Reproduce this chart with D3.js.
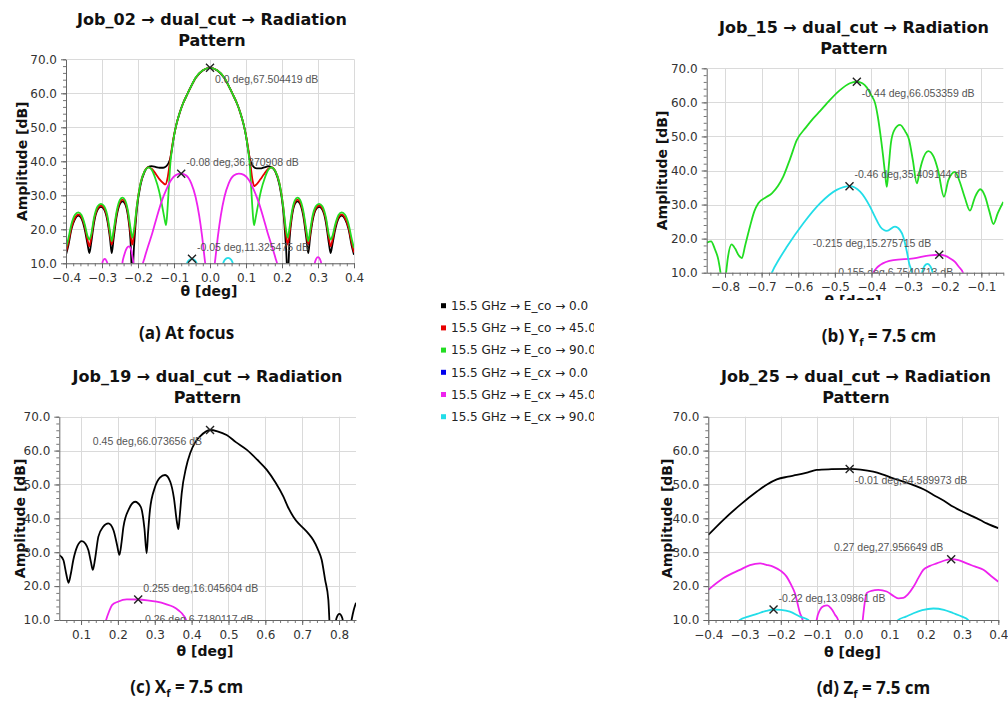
<!DOCTYPE html>
<html>
<head>
<meta charset="utf-8">
<script src="https://cdn.jsdelivr.net/npm/d3@7"></script>
<style>
  body { margin: 0; background: #fff; }
  svg { display: block; }
</style>
</head>
<body>
<svg id="fig" width="1008" height="704"></svg>
<script>
// ---------- legend / series ----------
const seriesNames = [
  "15.5 GHz → E_co → 0.0",
  "15.5 GHz → E_co → 45.0",
  "15.5 GHz → E_co → 90.0",
  "15.5 GHz → E_cx → 0.0",
  "15.5 GHz → E_cx → 45.0",
  "15.5 GHz → E_cx → 90.0"
];
const seriesColors = ["#000000", "#e80000", "#22dd22", "#0000ee", "#ee22ee", "#22dde8"];

// ---------- axis ticks ----------
const yTicks = [10, 20, 30, 40, 50, 60, 70];
const xTicksA = [-0.4, -0.3, -0.2, -0.1, 0.0, 0.1, 0.2, 0.3, 0.4];
const xTicksB = [-0.8, -0.7, -0.6, -0.5, -0.4, -0.3, -0.2, -0.1];
const xTicksC = [0.1, 0.2, 0.3, 0.4, 0.5, 0.6, 0.7, 0.8];
const xTicksD = [-0.4, -0.3, -0.2, -0.1, 0.0, 0.1, 0.2, 0.3, 0.4];

// ---------- (a) Job_02, at focus : [theta deg, amplitude dB] ----------
const a_co0 = [[-0.400,12.5],[-0.394,15],[-0.385,20],[-0.375,23],[-0.366,24],[-0.357,23.2],[-0.348,20],[-0.340,15.5],[-0.335,13],[-0.330,16],[-0.322,22],[-0.312,25.8],[-0.303,26.6],[-0.294,25.8],[-0.285,22.5],[-0.278,17.5],[-0.273,13],[-0.268,17],[-0.259,24],[-0.250,27.5],[-0.243,28.2],[-0.236,27.5],[-0.228,24],[-0.221,17],[-0.216,6],[-0.211,15],[-0.203,26],[-0.193,33],[-0.182,36.8],[-0.172,38.3],[-0.162,38.6],[-0.150,38.3],[-0.140,38.1],[-0.130,38.1],[-0.122,38.5],[-0.116,39.3],[-0.110,41],[-0.105,44],[-0.100,47.5],[-0.093,51],[-0.085,54],[-0.075,57],[-0.065,59.3],[-0.055,61.5],[-0.040,64.5],[-0.020,66.7],[0.000,67.45],[0.020,66.7],[0.040,64.5],[0.055,61.5],[0.065,59.3],[0.075,57],[0.085,54],[0.093,51],[0.100,47.5],[0.105,44],[0.110,41],[0.116,39.2],[0.122,38.3],[0.130,37.9],[0.140,37.9],[0.150,38.2],[0.162,38.5],[0.172,38.2],[0.182,36.8],[0.193,33],[0.203,26],[0.211,15],[0.216,6],[0.221,17],[0.228,24],[0.236,27.5],[0.243,28.2],[0.250,27.5],[0.259,24],[0.268,17],[0.273,13],[0.278,17.5],[0.285,22.5],[0.294,25.8],[0.303,26.6],[0.312,25.8],[0.322,22],[0.330,16],[0.335,13],[0.340,15.5],[0.348,20],[0.357,23.2],[0.366,24],[0.375,23],[0.385,20],[0.394,15],[0.400,12.5]];
const a_co45 = [[-0.400,13.2],[-0.394,15.8],[-0.385,20.5],[-0.375,23.4],[-0.366,24.4],[-0.357,23.6],[-0.348,20.8],[-0.340,16.8],[-0.335,15],[-0.330,17.5],[-0.322,22.8],[-0.312,26.2],[-0.303,27],[-0.294,26.2],[-0.285,23.2],[-0.278,18.5],[-0.273,15.5],[-0.268,18.5],[-0.259,24.8],[-0.250,28],[-0.243,28.7],[-0.236,28],[-0.228,24.8],[-0.221,19],[-0.216,15.5],[-0.211,18.5],[-0.203,27],[-0.193,33.5],[-0.182,37],[-0.172,38.2],[-0.162,37.8],[-0.150,36.2],[-0.140,34.7],[-0.130,33.6],[-0.124,33.2],[-0.118,35],[-0.113,38.5],[-0.108,42.5],[-0.102,46.5],[-0.093,51],[-0.085,54],[-0.075,57],[-0.065,59.3],[-0.055,61.5],[-0.040,64.5],[-0.020,66.75],[0.000,67.48],[0.020,66.75],[0.040,64.5],[0.055,61.5],[0.065,59.3],[0.075,57],[0.085,54],[0.093,51],[0.102,46.5],[0.108,42.5],[0.113,38.5],[0.118,34.5],[0.123,32.7],[0.130,33.3],[0.140,34.7],[0.150,36.2],[0.162,37.8],[0.172,38.2],[0.182,37],[0.193,33.5],[0.203,27],[0.211,18.5],[0.216,15.5],[0.221,19],[0.228,24.8],[0.236,28],[0.243,28.7],[0.250,28],[0.259,24.8],[0.268,18.5],[0.273,15.5],[0.278,18.5],[0.285,23.2],[0.294,26.2],[0.303,27],[0.312,26.2],[0.322,22.8],[0.330,17.5],[0.335,15],[0.340,16.8],[0.348,20.8],[0.357,23.6],[0.366,24.4],[0.375,23.4],[0.385,20.5],[0.394,15.8],[0.400,13.2]];
const a_co90 = [[-0.400,14.5],[-0.394,17],[-0.385,21.5],[-0.375,24.3],[-0.366,25],[-0.357,24.2],[-0.348,21.5],[-0.340,18],[-0.335,17],[-0.330,18.5],[-0.322,23.5],[-0.312,26.8],[-0.303,27.5],[-0.294,26.8],[-0.285,24],[-0.278,19.5],[-0.273,16.5],[-0.268,19.5],[-0.259,25.5],[-0.250,28.7],[-0.243,29.3],[-0.236,28.6],[-0.228,25.5],[-0.221,20.5],[-0.216,17.5],[-0.211,20],[-0.203,27],[-0.193,33.5],[-0.182,37],[-0.170,38.2],[-0.162,37.5],[-0.152,35],[-0.142,31.5],[-0.134,27.5],[-0.127,23.5],[-0.122,21.2],[-0.118,26],[-0.114,33],[-0.110,39.5],[-0.105,44],[-0.100,47.5],[-0.093,51],[-0.085,54],[-0.075,57],[-0.065,59.3],[-0.055,61.5],[-0.040,64.6],[-0.020,66.8],[0.000,67.504419],[0.020,66.8],[0.040,64.6],[0.055,61.5],[0.065,59.3],[0.075,57],[0.085,54],[0.093,51],[0.100,47.5],[0.105,44],[0.110,39.5],[0.114,33],[0.118,26],[0.122,21.2],[0.127,23.5],[0.134,27.5],[0.142,31.5],[0.152,35],[0.162,37.5],[0.170,38.2],[0.182,37],[0.193,33.5],[0.203,27],[0.211,20],[0.216,17.5],[0.221,20.5],[0.228,25.5],[0.236,28.6],[0.243,29.3],[0.250,28.7],[0.259,25.5],[0.268,19.5],[0.273,16.5],[0.278,19.5],[0.285,24],[0.294,26.8],[0.303,27.5],[0.312,26.8],[0.322,23.5],[0.330,18.5],[0.335,17],[0.340,18],[0.348,21.5],[0.357,24.2],[0.366,25],[0.375,24.3],[0.385,21.5],[0.394,17],[0.400,14.5]];
const a_cx45 = [[-0.400,0],[-0.305,0],[-0.300,9.5],[-0.296,11],[-0.292,11.3],[-0.288,10.8],[-0.284,9.5],[-0.280,0],[-0.250,0],[-0.244,9.5],[-0.238,12.5],[-0.231,14.5],[-0.225,15],[-0.219,14],[-0.214,11],[-0.210,8],[-0.205,0],[-0.195,0],[-0.188,9],[-0.182,11.5],[-0.172,15],[-0.160,19],[-0.148,23.5],[-0.135,28],[-0.122,31.5],[-0.108,34.5],[-0.094,36],[-0.080,36.370908],[-0.066,35.8],[-0.052,33.5],[-0.040,29.5],[-0.030,24],[-0.022,18],[-0.015,11.5],[-0.011,8],[0.000,0],[0.011,8],[0.015,11.5],[0.022,18],[0.030,24],[0.040,29.5],[0.052,33.5],[0.066,35.8],[0.080,36.35],[0.094,36],[0.108,34.5],[0.122,31.5],[0.135,28],[0.148,23.5],[0.160,19],[0.172,15],[0.182,11.5],[0.188,9],[0.195,0],[0.285,0],[0.290,9.5],[0.295,11.3],[0.300,11.8],[0.305,11.3],[0.310,9.5],[0.315,0],[0.400,0]];
const a_cx90 = [[-0.075,0],[-0.066,9.3],[-0.060,10.8],[-0.050,11.325475],[-0.041,10.8],[-0.035,9.3],[-0.026,0],[0.026,0],[0.035,9.3],[0.041,11],[0.050,11.6],[0.059,11],[0.065,9.3],[0.074,0]];
const a_marks = [[0.0, 67.504419], [-0.08, 36.370908], [-0.05, 11.325475]];

// ---------- (b) Job_15, Yf = 7.5 cm ----------
const b_co90 = [[-0.850,18.8],[-0.838,19.2],[-0.828,17],[-0.818,13.7],[-0.810,8],[-0.805,2],[-0.799,8],[-0.792,14.5],[-0.782,18.3],[-0.772,17],[-0.762,15],[-0.754,14.3],[-0.745,18],[-0.732,23.5],[-0.720,28],[-0.709,30.4],[-0.690,32],[-0.672,33.3],[-0.655,35.5],[-0.641,38.2],[-0.622,43.5],[-0.604,48.9],[-0.580,52.5],[-0.559,55.3],[-0.540,57.5],[-0.522,59.7],[-0.486,63.6],[-0.459,65.6],[-0.440,66.053359],[-0.425,65.6],[-0.413,64.4],[-0.400,62],[-0.390,59.7],[-0.383,56],[-0.376,50.9],[-0.368,44],[-0.363,39.2],[-0.358,35.2],[-0.353,41],[-0.347,48],[-0.338,51.8],[-0.322,53.4],[-0.308,51.5],[-0.297,48.9],[-0.287,43],[-0.276,36.2],[-0.268,40],[-0.262,42.5],[-0.245,45.7],[-0.230,44],[-0.218,40],[-0.202,32.3],[-0.190,37.2],[-0.172,39.6],[-0.160,37],[-0.145,32],[-0.131,28.2],[-0.118,32],[-0.103,34.5],[-0.090,32.5],[-0.078,28],[-0.067,24.3],[-0.055,27.5],[-0.040,30.8]];
const b_cx45 = [[-0.420,0],[-0.395,10],[-0.385,11.5],[-0.376,12.3],[-0.340,13.7],[-0.285,14.2],[-0.240,15.1],[-0.215,15.275715],[-0.200,15],[-0.185,14.2],[-0.172,13.2],[-0.162,11.8],[-0.150,10],[-0.130,0]];
const b_cx90 = [[-0.700,0],[-0.672,10],[-0.652,14],[-0.631,17.6],[-0.586,24.5],[-0.540,30.4],[-0.495,34.3],[-0.460,35.409144],[-0.431,33.8],[-0.404,29.4],[-0.390,26.3],[-0.376,23.5],[-0.358,22.3],[-0.336,23.5],[-0.322,22.5],[-0.313,20.5],[-0.303,16],[-0.297,12.7],[-0.290,10],[-0.282,0],[-0.268,0],[-0.262,10],[-0.255,12],[-0.247,12.6],[-0.240,12],[-0.233,10],[-0.225,0],[-0.040,0]];
const b_marks = [[-0.44, 66.053359], [-0.46, 35.409144], [-0.215, 15.275715], [-0.155, 6.7540713]];

// ---------- (c) Job_19, Xf = 7.5 cm ----------
const c_co0 = [[0.041,29.2],[0.052,27.7],[0.060,23.5],[0.066,21],[0.072,23.5],[0.079,27.7],[0.090,31.8],[0.102,33.3],[0.112,32.5],[0.120,30.6],[0.127,27],[0.132,24.8],[0.138,28],[0.147,34.6],[0.160,37.5],[0.174,38.5],[0.188,36.5],[0.198,32],[0.204,29.2],[0.210,33],[0.215,37.5],[0.230,42.8],[0.2465,44.9],[0.262,43.4],[0.272,37],[0.278,29.7],[0.282,36],[0.287,42.5],[0.300,49],[0.314,52],[0.328,52.8],[0.342,50.8],[0.352,46],[0.360,39],[0.364,36.8],[0.368,41],[0.373,47.3],[0.385,55],[0.396,59.2],[0.410,62.5],[0.423,64.2],[0.450,66.073656],[0.470,65.7],[0.495,64.6],[0.520,62.5],[0.550,60.2],[0.578,57.3],[0.604,54.3],[0.628,50.5],[0.649,46.4],[0.662,43.2],[0.676,40.5],[0.690,38.5],[0.703,37.1],[0.717,35.5],[0.730,33.6],[0.742,31],[0.753,27.7],[0.762,22],[0.771,15.9],[0.777,5],[0.785,5],[0.793,10.5],[0.801,11.8],[0.809,10.5],[0.815,5],[0.826,5],[0.834,10],[0.840,13],[0.846,15.1]];
const c_cx45 = [[0.150,0],[0.168,10],[0.176,12.5],[0.184,14.4],[0.200,15.4],[0.224,16.1],[0.255,16.045604],[0.280,15.8],[0.305,15.4],[0.330,14.7],[0.350,13.9],[0.365,12.8],[0.377,11.5],[0.385,10],[0.400,0]];
const c_marks = [[0.45, 66.073656], [0.255, 16.045604], [0.26, 6.7180117]];

// ---------- (d) Job_25, Zf = 7.5 cm ----------
const d_co0 = [[-0.400,35.1],[-0.359,39.5],[-0.313,43.9],[-0.266,47.9],[-0.238,50],[-0.211,51.5],[-0.180,52.3],[-0.156,52.8],[-0.125,53.6],[-0.101,54.3],[-0.060,54.5],[-0.010,54.589973],[0.020,54.4],[0.055,53.8],[0.080,53],[0.110,51.8],[0.140,50.8],[0.166,49.8],[0.195,48.5],[0.221,46.9],[0.250,45.2],[0.276,43.4],[0.305,41.8],[0.331,40.5],[0.350,39.5],[0.368,38.5],[0.400,37.1]];
const d_cx45 = [[-0.400,18.9],[-0.359,22.3],[-0.313,24.8],[-0.285,26.2],[-0.257,26.7],[-0.240,26.3],[-0.220,25.7],[-0.200,24.5],[-0.184,22.8],[-0.172,20.5],[-0.161,17.9],[-0.147,12],[-0.140,10],[-0.130,0],[-0.110,0],[-0.101,10],[-0.092,13],[-0.082,14.1],[-0.072,14.3],[-0.062,13.5],[-0.050,11.5],[-0.042,10],[-0.035,0],[0.018,0],[0.026,10],[0.037,17.9],[0.050,18.6],[0.069,18.9],[0.092,18.4],[0.112,17],[0.125,16.4],[0.138,16.5],[0.150,17.5],[0.166,19.8],[0.180,22.5],[0.193,24.8],[0.210,25.9],[0.230,26.7],[0.270,27.956649],[0.290,27.7],[0.313,26.7],[0.335,25.8],[0.359,24.8],[0.380,23],[0.400,21.3]];
const d_cx90 = [[-0.350,0],[-0.313,10],[-0.290,11],[-0.266,11.8],[-0.240,12.7],[-0.220,13.09861],[-0.200,13],[-0.175,12.5],[-0.147,11],[-0.124,10],[-0.100,0],[0.100,0],[0.124,10],[0.145,11],[0.166,12],[0.190,12.9],[0.221,13.4],[0.250,13],[0.276,12],[0.300,11],[0.317,10],[0.340,0]];
const d_marks = [[-0.01, 54.589973], [0.27, 27.956649], [-0.22, 13.09861]];

// ---------- panel layout ----------
const panels = [
  { id: "a", title: "Job_02 → dual_cut → Radiation", left: 66, right: 354, top: 59.3, bottom: 263.3,
    xDomain: [-0.4, 0.4], xTicks: xTicksA, titleX: 212, titleY: 25, yLabelX: 22, xLabelX: 209, xLabelY: 296,
    series: [[0, a_co0], [1, a_co45], [2, a_co90], [4, a_cx45], [5, a_cx90]],
    marks: a_marks, place: ["br", "ar", "ar"],
    caption: { x: 186.5, y: 339, main: "(a) At focus", sub: null, rest: "" } },
  { id: "b", title: "Job_15 → dual_cut → Radiation", left: 706.7, right: 1003.3, top: 68.3, bottom: 272.7,
    xDomain: [-0.85, -0.04], xTicks: xTicksB, titleX: 854, titleY: 33, yLabelX: 662, xLabelX: 853, xLabelY: 306,
    clipBottom: 300,
    series: [[2, b_co90], [4, b_cx45], [5, b_cx90]],
    marks: b_marks, place: ["br", "ar", "al", "al"],
    caption: { x: 879, y: 342, main: "(b) Y", sub: "f", rest: " = 7.5 cm" } },
  { id: "c", title: "Job_19 → dual_cut → Radiation", left: 59.3, right: 356, top: 416.7, bottom: 620,
    xDomain: [0.041, 0.846], xTicks: xTicksC, titleX: 207.5, titleY: 382, yLabelX: 20, xLabelX: 205, xLabelY: 656,
    series: [[0, c_co0], [4, c_cx45]],
    marks: c_marks, place: ["bl", "ar", "ar"],
    caption: { x: 186.7, y: 693, main: "(c) X", sub: "f", rest: " = 7.5 cm" } },
  { id: "d", title: "Job_25 → dual_cut → Radiation", left: 708.3, right: 998.3, top: 416.7, bottom: 620,
    xDomain: [-0.4, 0.4], xTicks: xTicksD, titleX: 856, titleY: 382, yLabelX: 667, xLabelX: 852.5, xLabelY: 657,
    series: [[0, d_co0], [4, d_cx45], [5, d_cx90]],
    marks: d_marks, place: ["br", "al", "ar"],
    caption: { x: 873.5, y: 694, main: "(d) Z", sub: "f", rest: " = 7.5 cm" } }
];

const svg = d3.select("#fig");
const defs = svg.append("defs");
svg.append("rect").attr("width", 1008).attr("height", 704).attr("fill", "#fff");

const fmtY = d3.format(".1f");
const fmtX = d3.format(".1f");
const fmtTheta = t => (t === 0 ? "0.0" : String(t));

function drawPanel(p) {
  const root = svg.append("g").attr("class", "panel-" + p.id);
  if (p.clipBottom) {
    defs.append("clipPath").attr("id", "panel-clip-" + p.id)
      .append("rect").attr("x", 600).attr("y", 0).attr("width", 408).attr("height", p.clipBottom);
    root.attr("clip-path", `url(#panel-clip-${p.id})`);
  }
  const x = d3.scaleLinear().domain(p.xDomain).range([p.left, p.right]);
  const y = d3.scaleLinear().domain([10, 70]).range([p.bottom, p.top]);

  // title (two lines)
  const title = root.append("text")
    .attr("x", p.titleX).attr("y", p.titleY)
    .attr("text-anchor", "middle")
    .attr("font-family", "DejaVu Sans").attr("font-weight", "bold").attr("font-size", 16)
    .attr("fill", "#111");
  title.append("tspan").attr("x", p.titleX).text(p.title);
  title.append("tspan").attr("x", p.titleX).attr("dy", 21).text("Pattern");

  // grid
  const grid = root.append("g").attr("stroke", "#dadada").attr("stroke-width", 1);
  grid.selectAll("line.v").data(p.xTicks).join("line").attr("class", "v")
    .attr("x1", d => Math.round(x(d)) + 0.5).attr("x2", d => Math.round(x(d)) + 0.5)
    .attr("y1", p.top).attr("y2", p.bottom);
  grid.selectAll("line.h").data(yTicks).join("line").attr("class", "h")
    .attr("x1", p.left).attr("x2", p.right)
    .attr("y1", d => Math.round(y(d)) + 0.5).attr("y2", d => Math.round(y(d)) + 0.5);

  // plot clip
  const clipId = "plot-clip-" + p.id;
  defs.append("clipPath").attr("id", clipId)
    .append("rect").attr("x", p.left).attr("y", p.top - 2)
    .attr("width", p.right - p.left).attr("height", p.bottom - p.top + 2);

  const plot = root.append("g").attr("clip-path", `url(#${clipId})`);
  const line = d3.line().x(d => x(d[0])).y(d => y(d[1])).curve(d3.curveMonotoneX);
  p.series.forEach(([si, data]) => {
    plot.append("path").datum(data)
      .attr("d", line)
      .attr("fill", "none")
      .attr("stroke", seriesColors[si])
      .attr("stroke-width", 1.8)
      .attr("stroke-linejoin", "round");
  });

  // peak markers and their readouts
  p.marks.forEach(([t, v], i) => {
    const mx = x(t), my = y(v);
    if (v >= 10) {
      plot.append("path")
        .attr("d", "M-4,-4L4,4M-4,4L4,-4")
        .attr("transform", `translate(${mx},${my})`)
        .attr("stroke", "#222").attr("stroke-width", 1.4).attr("fill", "none");
    }
    const side = p.place[i];
    const below = side[0] === "b";
    const left = side[1] === "l";
    plot.append("text")
      .attr("x", left ? mx - 8 : mx + 5)
      .attr("y", below ? my + 15 : my - 8)
      .attr("text-anchor", left ? "end" : "start")
      .attr("font-family", "Liberation Sans").attr("font-size", 10.5)
      .attr("fill", "#555")
      .text(`${fmtTheta(t)} deg,${v} dB`);
  });

  // axes
  const minorX = d3.range(Math.ceil(p.xDomain[0] / 0.02 - 1e-6), Math.floor(p.xDomain[1] / 0.02 + 1e-6) + 1).map(k => k * 0.02);
  const minorY = d3.range(10, 70.001, 2);

  const yMinor = root.append("g").attr("transform", `translate(${p.left},0)`)
    .call(d3.axisLeft(y).tickValues(minorY).tickSize(3).tickSizeOuter(0).tickFormat(""));
  const xMinor = root.append("g").attr("transform", `translate(0,${p.bottom})`)
    .call(d3.axisBottom(x).tickValues(minorX).tickSize(3).tickSizeOuter(0).tickFormat(""));
  [yMinor, xMinor].forEach(g => {
    g.select(".domain").remove();
    g.selectAll("line").attr("stroke", "#777");
  });

  const yAxis = root.append("g").attr("transform", `translate(${p.left},0)`)
    .call(d3.axisLeft(y).tickValues(yTicks).tickFormat(fmtY).tickSize(5).tickPadding(4).tickSizeOuter(0));
  const xAxis = root.append("g").attr("transform", `translate(0,${p.bottom})`)
    .call(d3.axisBottom(x).tickValues(p.xTicks).tickFormat(fmtX).tickSize(5).tickPadding(5).tickSizeOuter(0));
  [yAxis, xAxis].forEach(g => {
    g.attr("font-family", "DejaVu Sans").attr("font-size", 12);
    g.select(".domain").attr("stroke", "#666");
    g.selectAll("line").attr("stroke", "#666");
    g.selectAll("text").attr("fill", "#333");
  });

  // axis titles
  root.append("text")
    .attr("transform", `translate(${p.yLabelX},${(p.top + p.bottom) / 2}) rotate(-90)`)
    .attr("dy", "0.35em")
    .attr("text-anchor", "middle")
    .attr("font-family", "DejaVu Sans").attr("font-weight", "bold").attr("font-size", 14)
    .attr("fill", "#111")
    .text("Amplitude [dB]");
  root.append("text")
    .attr("x", p.xLabelX).attr("y", p.xLabelY)
    .attr("text-anchor", "middle")
    .attr("font-family", "DejaVu Sans").attr("font-weight", "bold").attr("font-size", 14)
    .attr("fill", "#111")
    .text("θ [deg]");

  // caption below the chart
  const cap = svg.append("text")
    .attr("x", p.caption.x).attr("y", p.caption.y)
    .attr("text-anchor", "middle")
    .attr("font-family", "Open Sans").attr("font-weight", "bold").attr("font-size", 17)
    .attr("fill", "#111");
  cap.append("tspan").text(p.caption.main);
  if (p.caption.sub) {
    cap.append("tspan").attr("font-size", 11).attr("dy", 4).text(p.caption.sub);
    cap.append("tspan").attr("dy", -4).text(p.caption.rest);
  }
}

panels.forEach(drawPanel);

// ---------- shared legend ----------
defs.append("clipPath").attr("id", "legend-clip")
  .append("rect").attr("x", 430).attr("y", 290).attr("width", 164).attr("height", 140);
const legend = svg.append("g").attr("clip-path", "url(#legend-clip)");
const legendY = d3.scalePoint().domain(d3.range(seriesNames.length)).range([305.7, 416.7]);
const items = legend.selectAll("g.item").data(seriesNames).join("g").attr("class", "item")
  .attr("transform", (d, i) => `translate(0,${legendY(i)})`);
items.append("rect").attr("x", 441).attr("y", -2.5).attr("width", 5).attr("height", 5)
  .attr("fill", (d, i) => seriesColors[i]);
items.append("text").attr("x", 451).attr("dy", "0.36em")
  .attr("font-family", "DejaVu Sans").attr("font-size", 12).attr("fill", "#222")
  .text(d => d);
</script>
</body>
</html>
